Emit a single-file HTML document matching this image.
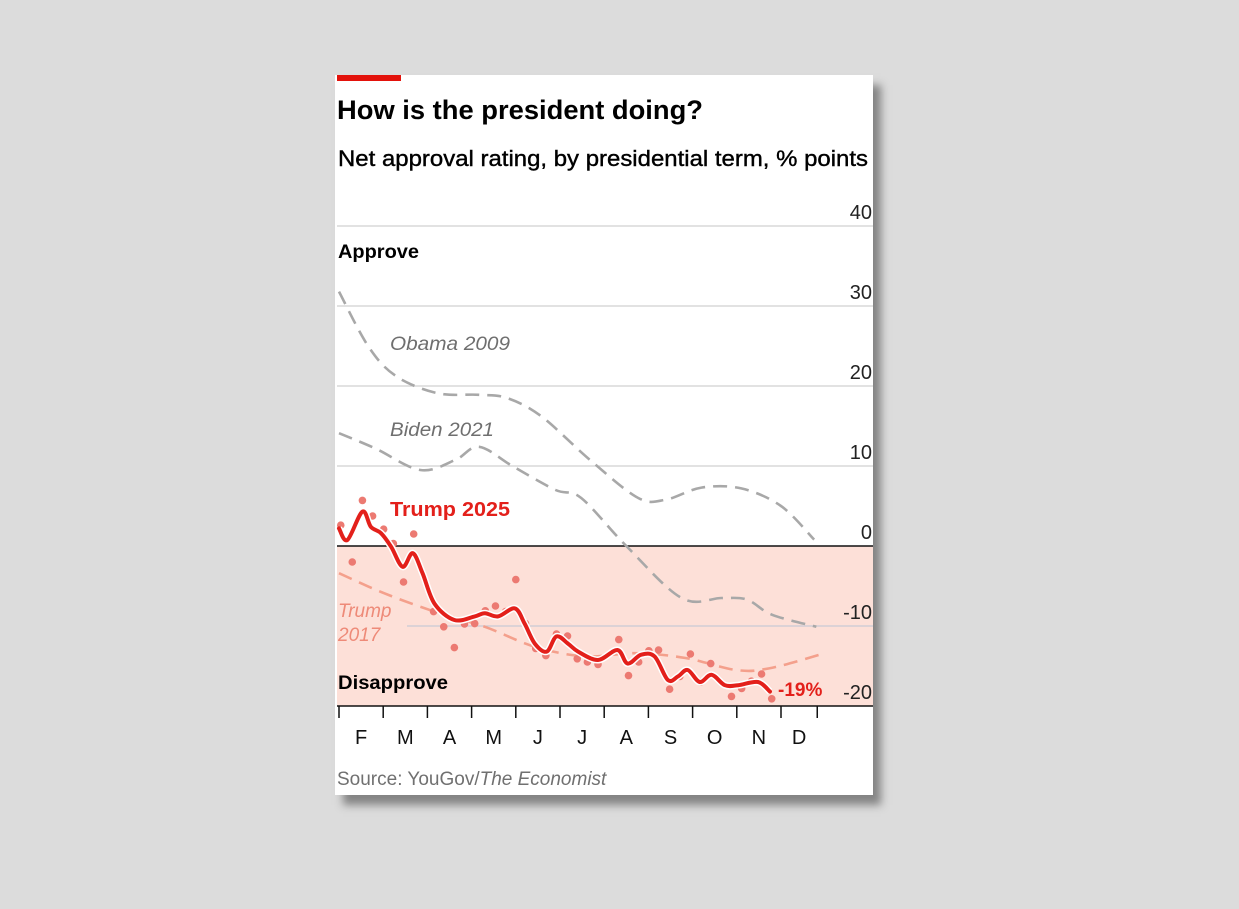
<!DOCTYPE html>
<html><head><meta charset="utf-8"><style>
html,body{margin:0;padding:0;background:#dcdcdc;}
body{width:1239px;height:909px;position:relative;overflow:hidden;font-family:"Liberation Sans",sans-serif;}
#card{position:absolute;left:335px;top:75px;width:538px;height:720px;background:#fff;box-shadow:8px 10px 8px rgba(60,60,60,0.55);}
svg{position:absolute;left:0;top:0;}
</style></head><body>
<div id="card"></div>
<svg id="chart" width="1239" height="909">
<rect x="337" y="75" width="64" height="6" fill="#e3120b"/>
<text x="337" y="119" font-size="27" font-weight="bold" textLength="366" lengthAdjust="spacingAndGlyphs">How is the president doing?</text>
<text x="338" y="166" font-size="22" stroke="#000" stroke-width="0.4" textLength="530" lengthAdjust="spacingAndGlyphs">Net approval rating, by presidential term, % points</text>
<g id="grid"></g>
<g id="series"></g>
<text x="338" y="258" font-size="19" font-weight="bold" textLength="81" lengthAdjust="spacingAndGlyphs">Approve</text>
<text x="338" y="689" font-size="19" font-weight="bold" textLength="110" lengthAdjust="spacingAndGlyphs">Disapprove</text>
<text x="390" y="350" font-size="19" font-style="italic" fill="#6f6f6f" textLength="120" lengthAdjust="spacingAndGlyphs">Obama 2009</text>
<text x="390" y="436" font-size="19" font-style="italic" fill="#6f6f6f" textLength="104" lengthAdjust="spacingAndGlyphs">Biden 2021</text>
<text x="390" y="516" font-size="20" font-weight="bold" fill="#e3201b" textLength="120" lengthAdjust="spacingAndGlyphs">Trump 2025</text>
<text x="338" y="617" font-size="19" font-style="italic" fill="#ee8a78">Trump</text>
<text x="338" y="641" font-size="19" font-style="italic" fill="#ee8a78">2017</text>
<text x="778" y="696" font-size="19" font-weight="bold" fill="#e3201b">-19%</text>
<text x="337" y="785" font-size="19" fill="#707070">Source: YouGov/<tspan font-style="italic">The Economist</tspan></text>
</svg>
<script>
const yTicks=[40,30,20,10,0,-10,-20];
const monthLabels=["F","M","A","M","J","J","A","S","O","N","D"];
const monthTicks=[0,1,2,3,4,5,6,7,8,9,10,10.82];
const obamaMonth=[0,0.67,1.30,2.23,3.17,3.80,4.58,5.68,6.77,7.4,8.2,9.1,10.0,10.75];
const obamaVal=[31.8,24.9,21.2,19.1,18.9,18.5,16.2,10.75,6.0,5.8,7.3,7.2,5.0,0.8];
const bidenMonth=[0,0.82,1.84,2.63,3.17,3.95,4.9,5.48,6.5,7.75,8.66,9.23,9.8,10.8];
const bidenVal=[14.1,12.2,9.5,10.75,12.4,9.9,7.0,6.0,0,-6.5,-6.5,-6.7,-8.6,-10.1];
const t17Month=[0,1.02,2.16,3.3,4.43,5.57,6.7,7.84,8.98,9.73,10.87];
const t17Val=[-3.4,-5.9,-8.2,-10.1,-12.6,-13.8,-13.4,-14.0,-15.5,-15.3,-13.6];
const t25Month=[0,0.19,0.53,0.72,0.95,1.18,1.44,1.67,1.89,2.16,2.61,3.07,3.30,3.60,3.98,4.20,4.43,4.70,4.92,5.18,5.41,5.86,6.30,6.53,6.83,7.14,7.44,7.67,7.89,8.16,8.43,8.73,9.03,9.48,9.75];
const t25Val=[2.2,0.75,4.3,2.4,1.6,-0.1,-2.6,-0.9,-3.4,-7.2,-9.25,-8.8,-8.4,-8.8,-7.8,-9.7,-12.2,-13.2,-11.3,-12.2,-13.2,-14.25,-13,-14.7,-13.6,-13.8,-16.75,-16.3,-15.5,-17,-16.1,-17.4,-17.4,-17,-18.2];
const pollMonth=[0.04,0.30,0.53,0.76,1.01,1.23,1.69,1.46,2.14,2.37,2.61,2.84,3.07,3.31,3.54,3.77,4.00,4.22,4.45,4.68,4.92,5.17,5.39,5.62,5.86,6.33,6.55,6.78,7.01,7.23,7.48,7.71,7.95,8.18,8.41,8.88,9.11,9.33,9.56,9.79];
const pollVal=[2.6,-2.0,5.7,3.75,2.1,0.3,1.5,-4.5,-8.2,-10.1,-12.7,-9.75,-9.7,-8.1,-7.5,-8.2,-4.2,-9.7,-12.8,-13.7,-11,-11.25,-14.1,-14.5,-14.8,-11.7,-16.2,-14.5,-13.1,-13,-17.9,-16.3,-13.5,-17,-14.7,-18.8,-17.8,-16.9,-16,-19.1];

const NS="http://www.w3.org/2000/svg";
const X=m=>339+m*44.2;
const Y=v=>546-8*v;
const grid=document.getElementById('grid'), ser=document.getElementById('series');
function mk(tag,attrs,parent){const e=document.createElementNS(NS,tag);for(const k in attrs)e.setAttribute(k,attrs[k]);parent.appendChild(e);return e;}
let band=mk('rect',{x:337,y:Y(0),width:536,height:Y(-20)-Y(0),fill:'#fde0d8'},grid);


yTicks.forEach(v=>{
  if(v!==0&&v!==-20){
    const l=mk('line',{x1:v===-10?407:337,x2:873,y1:Y(v),y2:Y(v),stroke:v<0?'#c9c9d4':'#d0d0d0','stroke-width':1.3},grid);
    
    
  }
  const t=mk('text',{x:872,y:Y(v)-7,'text-anchor':'end','font-size':20,fill:'#222'},grid);
  t.textContent=String(v);
  
  
});
let zero=mk('line',{x1:337,x2:873,y1:Y(0),y2:Y(0),stroke:'#111','stroke-width':1.5},grid);


let ax=mk('line',{x1:337,x2:873,y1:Y(-20),y2:Y(-20),stroke:'#111','stroke-width':1.5},grid);


monthTicks.forEach(m=>{
  const l=mk('line',{x1:X(m),x2:X(m),y1:Y(-20),y2:Y(-20)+12,stroke:'#111','stroke-width':1.5},grid);
  
  
});
monthLabels.forEach((s,i)=>{
  const t=mk('text',{x:(X(monthTicks[i])+X(monthTicks[i+1]))/2,y:744,'text-anchor':'middle','font-size':20,fill:'#111'},grid);
  t.textContent=s;
  
  
});
function smooth(ms,vs){
  const p=ms.map((m,i)=>[X(m),Y(vs[i])]);
  let d='M'+p[0][0]+','+p[0][1];
  for(let i=0;i<p.length-1;i++){
    const p0=p[i-1]||p[i],p1=p[i],p2=p[i+1],p3=p[i+2]||p2;
    d+=' C'+(p1[0]+(p2[0]-p0[0])/6)+','+(p1[1]+(p2[1]-p0[1])/6)+' '+(p2[0]-(p3[0]-p1[0])/6)+','+(p2[1]-(p3[1]-p1[1])/6)+' '+p2[0]+','+p2[1];
  }
  return d;
}
let o=mk('path',{d:smooth(obamaMonth,obamaVal),fill:'none',stroke:'#a8a8a8','stroke-width':2.6,'stroke-dasharray':'14 8'},ser);


let b=mk('path',{d:smooth(bidenMonth,bidenVal),fill:'none',stroke:'#a8a8a8','stroke-width':2.6,'stroke-dasharray':'14 8'},ser);


let t17=mk('path',{d:smooth(t17Month,t17Val),fill:'none',stroke:'#f4a08c','stroke-width':2.6,'stroke-dasharray':'14 8'},ser);


pollMonth.forEach((m,i)=>{
  const c=mk('circle',{cx:X(m),cy:Y(pollVal[i]),r:3.8,fill:'#ec7a72'},ser);
  
  
});
let halo=mk('path',{d:smooth(t25Month,t25Val),fill:'none',stroke:'#fff','stroke-width':7,'stroke-linejoin':'round'},ser);


let t25=mk('path',{d:smooth(t25Month,t25Val),fill:'none',stroke:'#e3201b','stroke-width':4,'stroke-linejoin':'round','stroke-linecap':'round'},ser);


</script>
</body></html>
